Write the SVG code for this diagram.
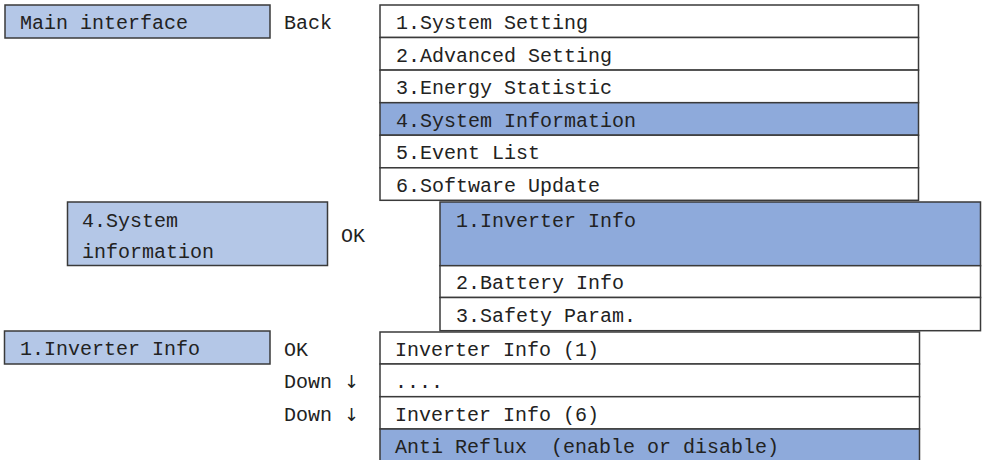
<svg xmlns="http://www.w3.org/2000/svg" width="984" height="460" viewBox="0 0 984 460">
<style>
text{font-family:"Liberation Mono","DejaVu Sans Mono",monospace;font-size:20px;fill:#222;white-space:pre}
.arw{font-family:"DejaVu Sans","Liberation Sans",sans-serif;font-size:18px;fill:#222}
.b{stroke:#3a3a3a;stroke-width:1.5}
.lt{fill:#B4C7E7}
.dk{fill:#8EAADB}
.wh{fill:#FFFFFF}
</style>
<rect width="984" height="460" fill="#FFFFFF"/>
<g id="main-interface">
<rect class="b lt" x="5" y="5" width="265" height="33"/>
<text x="20" y="29">Main interface</text>
</g>
<g id="label-back"><text x="284" y="29">Back</text></g>
<g id="top-menu">
<rect class="b wh" x="380" y="5" width="538.5" height="32.5"/>
<rect class="b wh" x="380" y="37.5" width="538.5" height="32.6"/>
<rect class="b wh" x="380" y="70.1" width="538.5" height="32.6"/>
<rect class="b dk" x="380" y="102.7" width="538.5" height="32.5"/>
<rect class="b wh" x="380" y="135.2" width="538.5" height="32.6"/>
<rect class="b wh" x="380" y="167.8" width="538.5" height="32.5"/>
<text x="396" y="29">1.System Setting</text>
<text x="396" y="62">2.Advanced Setting</text>
<text x="396" y="94">3.Energy Statistic</text>
<text x="396" y="127">4.System Information</text>
<text x="396" y="159">5.Event List</text>
<text x="396" y="192">6.Software Update</text>
</g>
<g id="system-information">
<rect class="b lt" x="67.5" y="202" width="260" height="63.5"/>
<text x="82" y="227">4.System</text>
<text x="82" y="258">information</text>
</g>
<g id="label-ok-1"><text x="341" y="242">OK</text></g>
<g id="sub-menu">
<rect class="b dk" x="440" y="202" width="540.5" height="63.7"/>
<rect class="b wh" x="440" y="265.7" width="540.5" height="31.8"/>
<rect class="b wh" x="440" y="297.5" width="540.5" height="33.2"/>
<text x="456" y="227">1.Inverter Info</text>
<text x="456" y="289">2.Battery Info</text>
<text x="456" y="322">3.Safety Param.</text>
</g>
<g id="inverter-info">
<rect class="b lt" x="4.5" y="331" width="265.5" height="33"/>
<text x="20" y="355">1.Inverter Info</text>
</g>
<g id="label-ok-2"><text x="284" y="356">OK</text></g>
<g id="label-down-1"><text x="284" y="388">Down <tspan class="arw">↓</tspan></text></g>
<g id="label-down-2"><text x="284" y="421">Down <tspan class="arw">↓</tspan></text></g>
<g id="inverter-list">
<rect class="b wh" x="380" y="332" width="539.5" height="32"/>
<rect class="b wh" x="380" y="364" width="539.5" height="32.7"/>
<rect class="b wh" x="380" y="396.7" width="539.5" height="32.3"/>
<rect class="b dk" x="380" y="429" width="539.5" height="33"/>
<text x="395" y="356">Inverter Info (1)</text>
<text x="395" y="388">....</text>
<text x="395" y="421">Inverter Info (6)</text>
<text x="395" y="453">Anti Reflux  (enable or disable)</text>
</g>
<g id="connectors"></g>
</svg>
